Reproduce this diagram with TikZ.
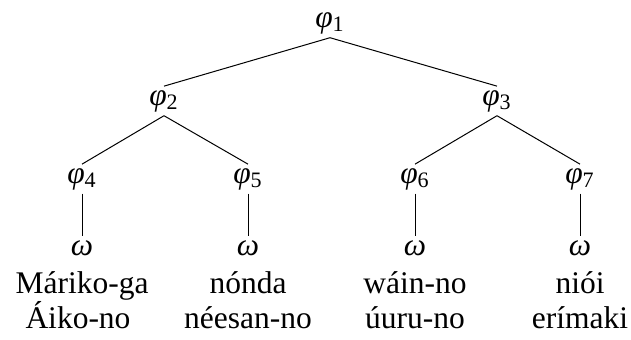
\documentclass[tikz,border=0pt]{standalone}
\usepackage{fontspec}
\setmainfont{Liberation Serif}
\usetikzlibrary{positioning,calc}
\newcommand{\phin}[1]{\textit{φ}\textsubscript{#1}}

\begin{document}
\begin{tikzpicture}[x=0.5pt,y=-0.5pt,line width=0.5pt,
    font=\fontsize{15.75}{17.5}\selectfont,
    tnode/.style={inner sep=1.75pt,anchor=base},
    gloss/.style={inner sep=0pt,anchor=base}]
  \useasboundingbox (0,0) rectangle (631,339);
  % tree
  \node[tnode] (p1) at (330,27) {\phin{1}};
  \node[tnode] (p2) at (164,105) {\phin{2}};
  \node[tnode] (p3) at (497,105) {\phin{3}};
  \node[tnode] (p4) at (82,183) {\phin{4}};
  \node[tnode] (p5) at (248,183) {\phin{5}};
  \node[tnode] (p6) at (415,183) {\phin{6}};
  \node[tnode] (p7) at (580,183) {\phin{7}};
  \foreach \i in {4,...,7}
    \node[tnode] (w\i) at ($(p\i.base)+(0,72)$) {\textit{ω}};
  \draw (p1.south) -- (p2.north);
  \draw (p1.south) -- (p3.north);
  \draw (p2.south) -- (p4.north);
  \draw (p2.south) -- (p5.north);
  \draw (p3.south) -- (p6.north);
  \draw (p3.south) -- (p7.north);
  \foreach \i in {4,...,7}
    \draw (p\i) -- (w\i);
  % words
  \node[gloss] (a4) at (82,293) {Máriko-ga};
  \node[gloss] (b4) at (78,328) {Áiko-no};
  \node[gloss] (a5) at (248,293) {nónda};
  \node[gloss] (b5) at (248,328) {néesan-no};
  \node[gloss] (a6) at (415,293) {wáin-no};
  \node[gloss] (b6) at (415,328) {úuru-no};
  \node[gloss] (a7) at (580,293) {niói};
  \node[gloss] (b7) at (580,328) {erímaki};
\end{tikzpicture}
\end{document}
